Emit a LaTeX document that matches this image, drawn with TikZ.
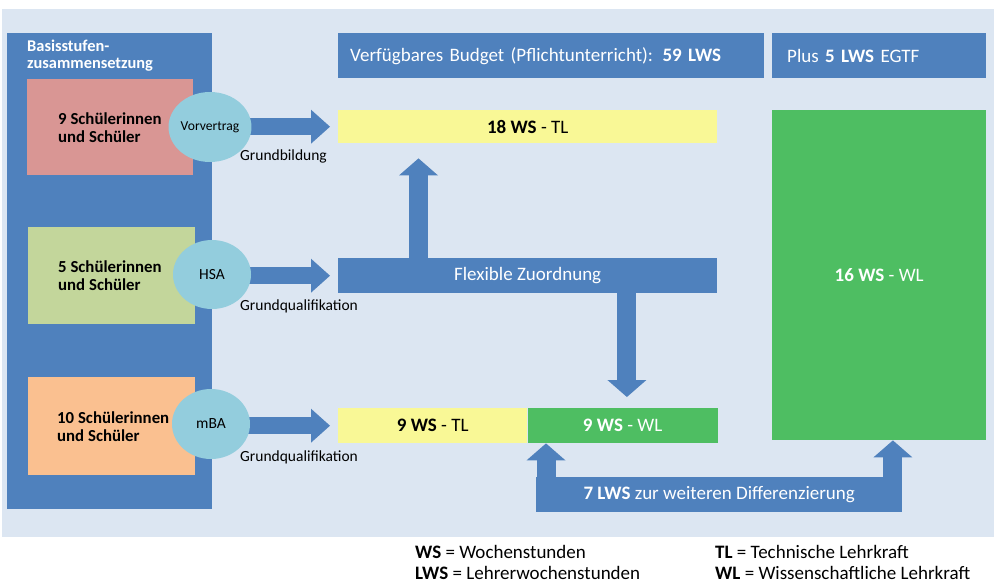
\documentclass[tikz,border=0pt]{standalone}
\usepackage{fontspec}
\setmainfont{Carlito}
\usetikzlibrary{arrows.meta,positioning,shapes.geometric}
\pgfdeclarelayer{bglayer}
\pgfdeclarelayer{edgelayer}
\pgfsetlayers{bglayer,edgelayer,main}
\definecolor{bgblue}{RGB}{220,230,242}
\definecolor{boxblue}{RGB}{79,129,189}
\definecolor{rosebox}{RGB}{217,150,148}
\definecolor{olivebox}{RGB}{195,214,155}
\definecolor{peachbox}{RGB}{250,192,144}
\definecolor{circblue}{RGB}{147,205,221}
\definecolor{tlyellow}{RGB}{249,248,150}
\definecolor{wlgreen}{RGB}{78,190,98}
\newcommand{\bodyfont}{\fontsize{19}{22}\selectfont}
\newcommand{\lblfont}{\fontsize{15.5}{18}\selectfont}
\newcommand{\pupilfont}{\fontsize{16.8}{18}\selectfont\bfseries}
\tikzset{
  box/.style={rectangle,inner sep=0pt,anchor=north west,font=\bodyfont},
  circ/.style={ellipse,fill=circblue,inner sep=0pt,minimum width=78pt,minimum height=70pt,font=\lblfont},
  pupil/.style={inner sep=0pt,align=left,font=\pupilfont},
  lbl/.style={inner sep=0pt,anchor=west,font=\lblfont},
  hblockarrow/.style={draw=boxblue,line width=17pt,-{Triangle[length=19pt,width=34pt,line width=0pt]}},
  vblockarrow/.style={draw=boxblue,line width=19pt,-{Triangle[length=17pt,width=39pt,line width=0pt]}}
}
\begin{document}
\begin{tikzpicture}[x=1pt,y=-1pt]
\useasboundingbox (0,0) rectangle (994,584);
\begin{pgfonlayer}{bglayer}
\fill[bgblue] (2,9) rectangle (994,537);
\end{pgfonlayer}
% Basisstufe
\node[box,fill=boxblue,minimum width=205pt,minimum height=476pt] (basis) at (7,33) {};
\node[inner sep=0pt,anchor=west,align=left,text=white,font=\fontsize{16.4}{17}\selectfont\bfseries] (basistxt) at (27,55.5) {Basisstufen-\\zusammensetzung};
\node[box,fill=rosebox,minimum width=166pt,minimum height=96pt] (sb1) at (27,79) {};
\node[box,fill=olivebox,minimum width=167pt,minimum height=97pt] (sb2) at (28,227) {};
\node[box,fill=peachbox,minimum width=167pt,minimum height=98pt] (sb3) at (28,377) {};
\node[pupil,right=31pt of sb1.west] (p1) {9 Schülerinnen\\und Schüler};
\node[pupil,right=30pt of sb2.west] (p2) {5 Schülerinnen\\und Schüler};
\node[pupil,right=29pt of sb3.west] (p3) {10 Schülerinnen\\und Schüler};
\node[circ,font=\fontsize{13.6}{16}\selectfont] (cv) at (210,127) {Vorvertrag};
\node[circ,minimum height=69pt] (ch) at (212,274.5) {HSA};
\node[circ] (cm) at (211,424) {mBA};
% Budget
\node[box,fill=boxblue,text=white,minimum height=45pt,inner xsep=12pt,text width=402pt,align=left] (budget) at (338,33) {Verfügbares Budget (Pflichtunterricht): \textbf{59 LWS}};
\node[box,fill=boxblue,text=white,minimum height=45pt,inner xsep=15pt,text width=184pt,align=left] (egtf) at (772,33) {Plus \textbf{5 LWS} EGTF};
\node[box,fill=tlyellow,minimum width=379pt,minimum height=33pt] (tl18) at (338,110) {\textbf{18 WS} - TL};
\node[box,fill=wlgreen,text=white,minimum width=214pt,minimum height=330pt] (wl16) at (772,110) {\textbf{16 WS} - WL};
\node[box,fill=boxblue,text=white,minimum width=379pt,minimum height=35pt] (flex) at (338,258) {Flexible Zuordnung};
\node[box,fill=tlyellow,minimum width=189pt,minimum height=35pt] (tl9) at (338,408) {\textbf{9 WS} - TL};
\node[box,fill=wlgreen,text=white,minimum width=190pt,minimum height=35pt] (wl9) at (tl9.north east) {\textbf{9 WS} - WL};
\node[box,fill=boxblue,text=white,minimum width=366pt,minimum height=35pt] (lws) at (536,477) {\textbf{7 LWS} zur weiteren Differenzierung};
% Pfeile
\begin{pgfonlayer}{edgelayer}
\draw[hblockarrow,shorten >=8pt] (cv.center |- tl18.west) -- (tl18.west);
\draw[hblockarrow,shorten >=8pt] (ch.center |- flex.west) -- (flex.west);
\draw[hblockarrow,shorten >=8pt] (cm.center |- tl9.west) -- (tl9.west);
\draw[vblockarrow,shorten >=15pt] ([xshift=80.5pt]flex.west) -- ([xshift=80.5pt]flex.west |- tl18.south);
\draw[vblockarrow,shorten >=11pt] ([xshift=-90.5pt]flex.east) -- ([xshift=-90.5pt]flex.east |- wl9.north);
\draw[vblockarrow] ([xshift=10pt]lws.west) -- ([xshift=10pt]lws.west |- wl9.south);
\draw[vblockarrow] ([xshift=-9.5pt]lws.east) -- ([xshift=-9.5pt]lws.east |- wl16.south);
\end{pgfonlayer}
\node[lbl] (gb) at (240,156) {Grundbildung};
\node[lbl] (gq1) at (240,306) {Grundqualifikation};
\node[lbl] (gq2) at (240,457) {Grundqualifikation};
% Legende
\node[lbl,font=\bodyfont] (lg1) at (415,552) {\textbf{WS} = Wochenstunden};
\node[lbl,font=\bodyfont] (lg2) at (415,573) {\textbf{LWS} = Lehrerwochenstunden};
\node[lbl,font=\bodyfont] (lg3) at (715,552) {\textbf{TL} = Technische Lehrkraft};
\node[lbl,font=\bodyfont] (lg4) at (715,573) {\textbf{WL} = Wissenschaftliche Lehrkraft};
\end{tikzpicture}
\end{document}
